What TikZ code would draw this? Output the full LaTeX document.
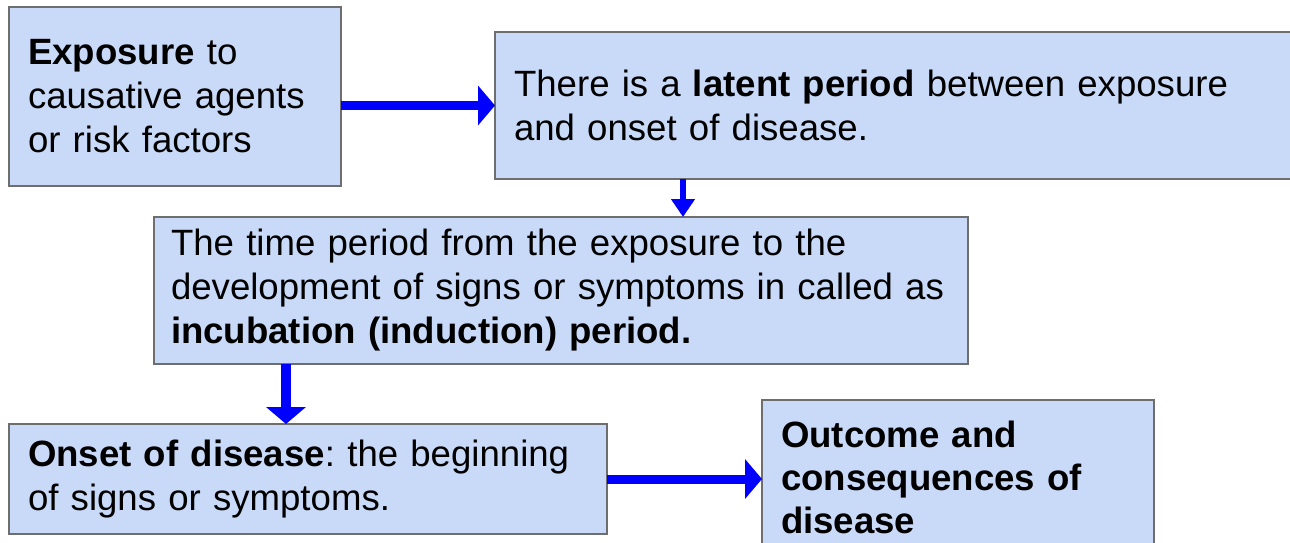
\documentclass[tikz,border=0pt]{standalone}
\usepackage{fontspec}
\setmainfont{Liberation Sans}
\usetikzlibrary{arrows.meta}
\definecolor{boxfill}{HTML}{C9DAF8}
\definecolor{boxline}{HTML}{6E6E6E}
\definecolor{flowblue}{HTML}{0000FF}
\frenchspacing
\tikzset{
    box/.style={
        draw=boxline, line width=1.5pt, fill=boxfill,
        anchor=north west, align=left,
        inner xsep=19pt, inner ysep=0pt, outer sep=0pt,
        font=\fontsize{36.6}{44}\selectfont
    },
    flow/.style={
        draw=flowblue, line width=9pt,
        -{Triangle[length=17pt,width=39pt]}
    }
}

\begin{document}
\begin{tikzpicture}[x=1pt,y=-1pt]

% --- page ---
    \clip (0,0) rectangle (1290,543);

% --- boxes ---
    \node[box, text width=294pt, minimum height=179pt] (expo) at (9,7)
        {\textbf{Exposure} to\\causative agents\\or risk factors};
    \node[box, text width=762pt, minimum height=147pt] (latent) at (495,32)
        {There is a \textbf{latent period} between exposure\\and onset of disease.};
    \node[box, text width=780pt, inner xsep=17pt, minimum height=147pt] (incub) at (154,217)
        {The time period from the exposure to the\\development of signs or symptoms in called as\\\textbf{incubation (induction) period.}};
    \node[box, text width=560pt, minimum height=110pt] (onset) at (9,424)
        {\textbf{Onset of disease}: the beginning\\of signs or symptoms.};
    \node[box, text width=354pt, minimum height=154pt,
          font=\fontsize{36.6}{43}\selectfont\bfseries] (outcome) at (762,400)
        {Outcome and\\consequences of\\disease};

% --- arrows ---
    \coordinate (down1) at (683,0);
    \coordinate (down2) at (286,0);
    \draw[flow] (expo.east |- latent.west) -- (latent.west);
    \draw[flow, line width=6.5pt, -{Triangle[length=18pt,width=23pt]}]
        (latent.south -| down1) -- (incub.north -| down1);
    \draw[flow, line width=10pt] (incub.south -| down2) -- (onset.north -| down2);
    \draw[flow] (onset.east) -- (outcome.west |- onset.east);

\end{tikzpicture}
\end{document}
